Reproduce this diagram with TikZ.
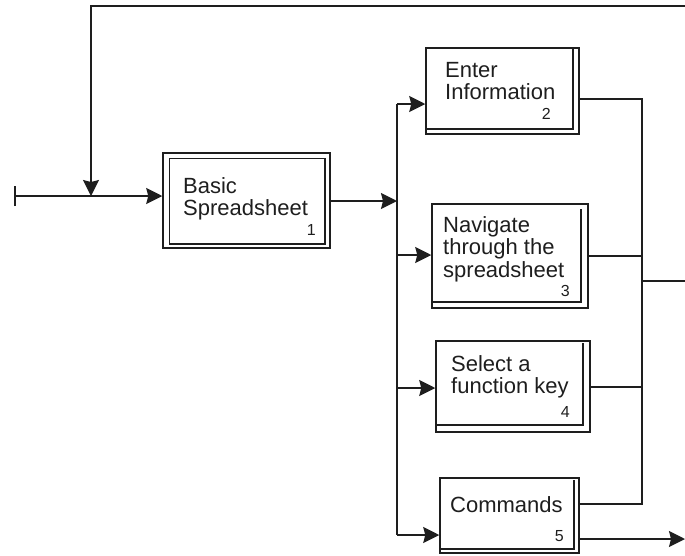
\documentclass[tikz,border=0pt]{standalone}
\usepackage{fontspec}
\setmainfont{Liberation Sans}
\usetikzlibrary{arrows.meta}
\definecolor{ink}{HTML}{1E1E1E}
\tikzset{
  wire/.style={line width=1.6pt, draw=ink},
  tip/.tip={Stealth[length=16pt,width=16pt,inset=2pt]},
  flow/.style={wire, -tip},
  boxnode/.style={draw=ink, line width=1.5pt, rectangle, inner sep=0pt},
  inner/.style={draw=ink, line width=1.5pt},
  boxtext/.style={anchor=north west, inner sep=0pt, align=left, text=ink,
    font=\fontsize{22}{22.5}\selectfont},
  boxnum/.style={anchor=base east, inner sep=0pt, text=ink,
    font=\fontsize{16}{16}\selectfont},
}
\begin{document}
\begin{tikzpicture}[x=1pt,y=-1pt]
\useasboundingbox (0,0) rectangle (685,555);

% boxes
\node[boxnode, minimum width=167pt, minimum height=95pt] (b1) at (246.5,200.5) {};
\node[boxnode, minimum width=153pt, minimum height=86pt] (b2) at (502.5,91) {};
\node[boxnode, minimum width=156pt, minimum height=104pt] (b3) at (510,256) {};
\node[boxnode, minimum width=154pt, minimum height=91pt] (b4) at (513,386.5) {};
\node[boxnode, minimum width=139pt, minimum height=75pt] (b5) at (509.5,515.5) {};

% inner lines
\draw[inner] ([shift={(7,6)}]b1.north west) rectangle ([shift={(-6,-5)}]b1.south east);
\draw[inner] ([shift={(0,-6)}]b2.south west) -- ([shift={(-7,-6)}]b2.south east) -- ([shift={(-7,2)}]b2.north east);
\draw[inner] ([shift={(0,-7)}]b3.south west) -- ([shift={(-8,-7)}]b3.south east) -- ([shift={(-8,6)}]b3.north east);
\draw[inner] ([shift={(0,-8)}]b4.south west) -- ([shift={(-8,-8)}]b4.south east) -- ([shift={(-8,3)}]b4.north east);
\draw[inner] ([shift={(0,-5)}]b5.south west) -- ([shift={(-6,-5)}]b5.south east) -- ([shift={(-6,3)}]b5.north east);

% texts
\node[boxtext] (t1) at (183,177) {Basic\\Spreadsheet};
\node[boxnum] (n1) at (316,235) {1};
\node[boxtext] (t2) at (445,62) {Enter\\Information};
\node[boxnum] (n2) at (551,119) {2};
\node[boxtext] (t3) at (443,216) {Navigate\\through the\\spreadsheet};
\node[boxnum] (n3) at (570,296) {3};
\node[boxtext] (t4) at (451,355) {Select a\\function key};
\node[boxnum] (n4) at (570,417) {4};
\node[boxtext] (t5) at (450,496) {Commands};
\node[boxnum] (n5) at (564,541) {5};

% input and feedback
\coordinate (in) at (14,196);
\coordinate (fbR) at (685,6);
\coordinate (fbL) at (91,6);
\draw[wire, {Bar[width=20pt]}-tip] (in) -- (in -| b1.west);
\draw[flow] (fbR) -- (fbL) -- (fbL |- in);

% output of box 1 to the split
\coordinate (split) at (397,201);
\draw[flow] (b1.east |- split) -- (split);

% distribution bus
\coordinate (bt) at (397,104);
\coordinate (bb) at (397,535);
\coordinate (s3) at (397,255);
\coordinate (s4) at (397,388);
\draw[wire] (bt) -- (bb);
\draw[flow] (bt) -- (bt -| b2.west);
\draw[flow] (s3) -- (s3 -| b3.west);
\draw[flow] (s4) -- (s4 -| b4.west);
\draw[flow] (bb) -- (bb -| b5.west);

% collecting bus on the right
\coordinate (ct) at (642,99);
\coordinate (c3) at (642,256);
\coordinate (c4) at (642,387);
\coordinate (cb) at (642,504);
\coordinate (co) at (642,281);
\coordinate (outR) at (685,281);
\draw[wire] (b2.east |- ct) -- (ct) -- (cb) -- (b5.east |- cb);
\draw[wire] (b3.east |- c3) -- (c3);
\draw[wire] (b4.east |- c4) -- (c4);
\draw[wire] (co) -- (outR);

% second output of box 5
\coordinate (o5) at (685,539);
\draw[flow] (b5.east |- o5) -- (o5);
\end{tikzpicture}
\end{document}
